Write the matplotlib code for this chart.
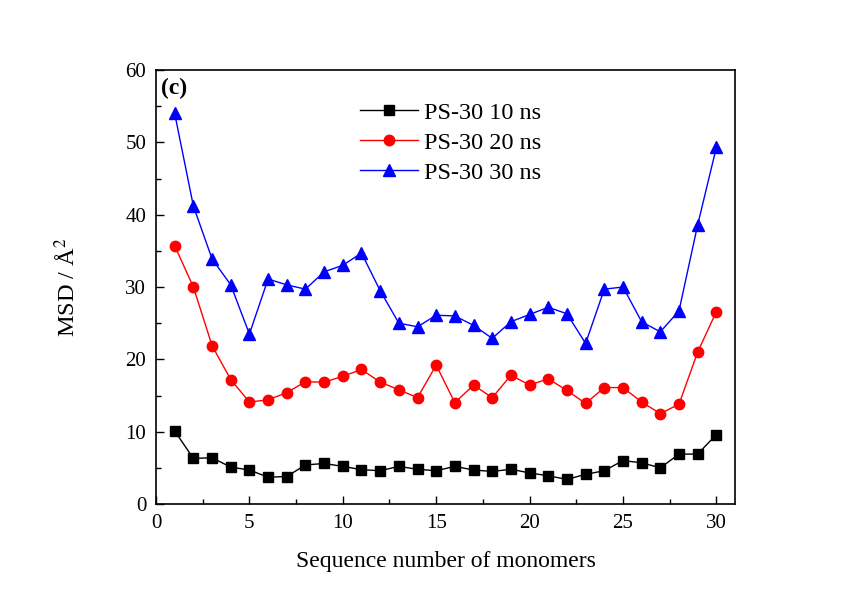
import matplotlib
matplotlib.use("Agg")
import matplotlib.pyplot as plt
from matplotlib.ticker import MultipleLocator

plt.rcParams["font.family"] = ["Liberation Serif", "DejaVu Serif"]
plt.rcParams["mathtext.fontset"] = "stix"

monomer = list(range(1, 31))

msd_10ns = [10.1, 6.3, 6.4, 5.1, 4.7, 3.7, 3.8, 5.4, 5.6, 5.2,
            4.75, 4.6, 5.2, 4.8, 4.6, 5.2, 4.7, 4.5, 4.8, 4.3,
            3.9, 3.4, 4.1, 4.6, 6.0, 5.7, 5.0, 6.9, 6.9, 9.6]

msd_20ns = [35.7, 30.0, 21.9, 17.2, 14.1, 14.4, 15.4, 16.9, 16.85, 17.65,
            18.6, 16.85, 15.8, 14.7, 19.2, 14.0, 16.45, 14.7, 17.8, 16.45,
            17.3, 15.7, 13.9, 16.1, 16.1, 14.1, 12.5, 13.8, 21.0, 26.6]

msd_30ns = [54.0, 41.2, 33.9, 30.3, 23.5, 31.1, 30.3, 29.7, 32.1, 33.0,
            34.7, 29.5, 25.0, 24.5, 26.1, 26.0, 24.7, 22.9, 25.2, 26.2,
            27.2, 26.3, 22.2, 29.7, 30.0, 25.2, 23.8, 26.7, 38.6, 49.3]

series_labels = ["PS-30 10 ns", "PS-30 20 ns", "PS-30 30 ns"]

fig = plt.figure(figsize=(8.41, 6.01), dpi=100)
ax = fig.add_axes([0.1855, 0.1614, 0.6885, 0.7221])

ax.plot(monomer, msd_10ns, color="black", marker="s", markersize=6.5,
        linewidth=1.0, label=series_labels[0])
ax.plot(monomer, msd_20ns, color="red", marker="o", markersize=7.5,
        linewidth=1.0, label=series_labels[1])
ax.plot(monomer, msd_30ns, color="blue", marker="^", markersize=8,
        linewidth=1.0, label=series_labels[2])

ax.set_xlim(0, 31)
ax.set_ylim(0, 60)
ax.xaxis.set_major_locator(MultipleLocator(5))
ax.xaxis.set_minor_locator(MultipleLocator(2.5))
ax.yaxis.set_major_locator(MultipleLocator(10))
ax.yaxis.set_minor_locator(MultipleLocator(5))
ax.tick_params(which="both", direction="in", top=False, right=False,
               labelsize=15, width=1.0, pad=7)
ax.tick_params(which="major", length=6)
ax.tick_params(which="minor", length=3.5)
for s in ax.spines.values():
    s.set_linewidth(1.2)

ax.set_xlabel("Sequence number of monomers", fontsize=17)
ax.set_ylabel("MSD / Å$^2$", fontsize=17.5)
ax.xaxis.set_label_coords(0.5, -0.108)
ax.yaxis.set_label_coords(-0.131, 0.5)

ax.text(0.009, 0.983, "(c)", transform=ax.transAxes, fontsize=17,
        fontweight="bold", ha="left", va="top")

ax.legend(loc="upper left", bbox_to_anchor=(0.352, 0.927), frameon=False,
          fontsize=17.5, handlelength=2.4, handletextpad=0.25,
          labelspacing=0.33, borderpad=0, borderaxespad=0)

fig.savefig("out.png", dpi=100)
